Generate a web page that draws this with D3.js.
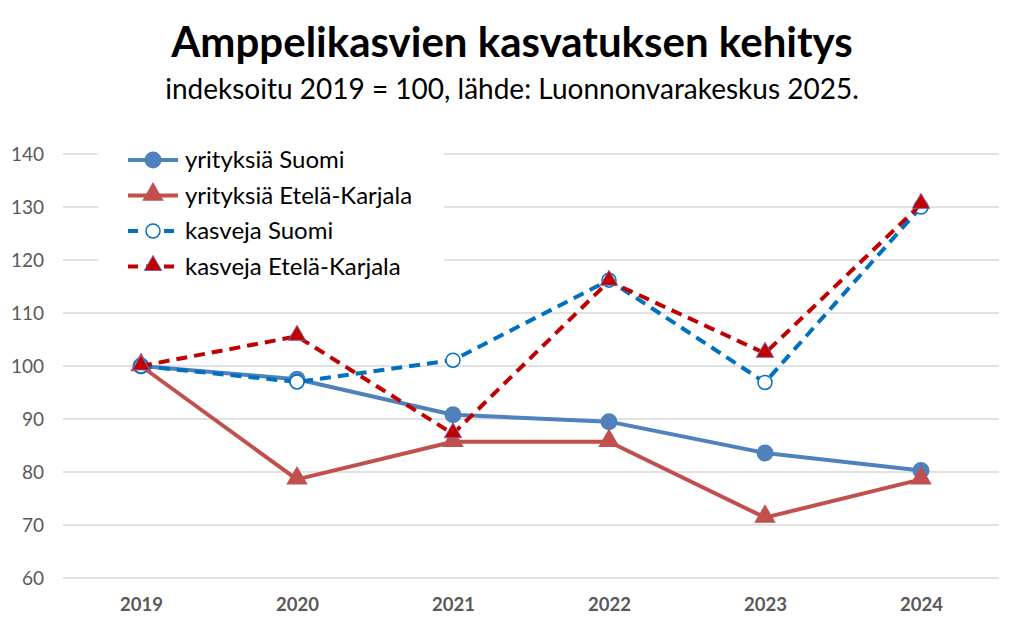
<!DOCTYPE html>
<html>
<head>
<meta charset="utf-8">
<script src="https://cdn.jsdelivr.net/npm/d3@7"></script>
<style>
  body { margin: 0; background: #fff; }
  text { font-family: Lato, "Open Sans", sans-serif; }
</style>
</head>
<body>
<div id="chart"></div>
<script>
// data
var years = ["2019", "2020", "2021", "2022", "2023", "2024"];
var yTicks = [60, 70, 80, 90, 100, 110, 120, 130, 140];
var yritykset_suomi = [100, 97.5, 90.8, 89.5, 83.6, 80.3];
var yritykset_ek = [100, 78.6, 85.7, 85.7, 71.4, 78.6];
var kasvit_suomi = [100, 97.0, 101.1, 116.2, 96.9, 130.0];
var kasvit_ek = [100, 105.6, 87.2, 116.0, 102.4, 130.5];
var seriesNames = ["yrityksiä Suomi", "yrityksiä Etelä-Karjala", "kasveja Suomi", "kasveja Etelä-Karjala"];

var width = 1024, height = 625;
var margin = { top: 154, right: 25, bottom: 47, left: 63 };
var w = width - margin.left - margin.right,
    h = height - margin.top - margin.bottom;

var series = [
  { name: seriesNames[0], values: yritykset_suomi, color: "#4F81BD", dash: null, marker: "circle" },
  { name: seriesNames[1], values: yritykset_ek, color: "#C0504D", dash: null, marker: "bigTriangle" },
  { name: seriesNames[2], values: kasvit_suomi, color: "#0070C0", dash: "11,7", marker: "openCircle" },
  { name: seriesNames[3], values: kasvit_ek, color: "#C00000", dash: "11,7", marker: "smallTriangle" }
];

var svg = d3.select("#chart").append("svg")
    .attr("width", width)
    .attr("height", height);

// titles
svg.append("text")
    .attr("x", 512).attr("y", 57)
    .attr("text-anchor", "middle")
    .style("font-size", "42px").style("font-weight", "bold")
    .text("Amppelikasvien kasvatuksen kehitys");

svg.append("text")
    .attr("x", 512).attr("y", 99)
    .attr("text-anchor", "middle")
    .style("font-size", "28px")
    .text("indeksoitu 2019 = 100, lähde: Luonnonvarakeskus 2025.");

var g = svg.append("g")
    .attr("transform", "translate(" + margin.left + "," + margin.top + ")");

var x = d3.scalePoint().domain(years).range([0, w]).padding(0.5);
var y = d3.scaleLinear().domain([60, 140]).range([h, 0]);

// gridlines
g.selectAll(".grid")
    .data(yTicks)
  .enter().append("line")
    .attr("class", "grid")
    .attr("x1", 0).attr("x2", w)
    .attr("y1", function(d) { return y(d); })
    .attr("y2", function(d) { return y(d); })
    .style("stroke", "#D9D9D9")
    .style("stroke-width", 1.5);

var yAxis = d3.axisLeft(y).tickValues(yTicks).tickSize(0).tickPadding(19);
g.append("g")
    .attr("class", "y axis")
    .call(yAxis)
    .call(function(a) { a.select(".domain").remove(); })
  .selectAll("text")
    .style("font-size", "19px")
    .style("fill", "#595959");

var xAxis = d3.axisBottom(x).tickSize(0).tickPadding(20);
g.append("g")
    .attr("class", "x axis")
    .attr("transform", "translate(0," + h + ")")
    .call(xAxis)
    .call(function(a) { a.select(".domain").remove(); })
  .selectAll("text")
    .style("font-size", "18.5px")
    .style("font-weight", "bold")
    .style("fill", "#595959");

var line = d3.line()
    .x(function(d, i) { return x(years[i]); })
    .y(function(d) { return y(d); });

var tri = d3.symbol().type(d3.symbolTriangle);

function drawMarker(sel, s) {
  if (s.marker === "circle") {
    sel.append("circle").attr("r", 8.5).style("fill", s.color);
  } else if (s.marker === "openCircle") {
    sel.append("circle").attr("r", 7).style("fill", "#fff")
      .style("stroke", s.color).style("stroke-width", 1.5);
  } else if (s.marker === "bigTriangle") {
    sel.append("path").attr("d", tri.size(200)()).attr("transform", "translate(0,-1)")
      .style("fill", s.color);
  } else {
    sel.append("path").attr("d", tri.size(130)()).attr("transform", "translate(0,-1)")
      .style("fill", s.color).style("stroke", "#8064A2").style("stroke-width", 1);
  }
}

series.forEach(function(s) {
  g.append("path")
      .datum(s.values)
      .attr("d", line)
      .style("fill", "none")
      .style("stroke", s.color)
      .style("stroke-width", 4)
      .style("stroke-dasharray", s.dash)
      .style("stroke-linejoin", "round");

  g.selectAll(null)
      .data(s.values)
    .enter().append("g")
      .attr("transform", function(d, i) { return "translate(" + x(years[i]) + "," + y(d) + ")"; })
      .each(function() { drawMarker(d3.select(this), s); });
});

// legend
var legend = svg.append("g").attr("transform", "translate(98,142)");
legend.append("rect")
    .attr("width", 346).attr("height", 142)
    .style("fill", "#fff");

var item = legend.selectAll(".item")
    .data(series)
  .enter().append("g")
    .attr("class", "item")
    .attr("transform", function(d, i) { return "translate(0," + (18 + i * 35.5) + ")"; });

item.append("line")
    .attr("x1", 30).attr("x2", 80)
    .style("stroke", function(d) { return d.color; })
    .style("stroke-width", 4)
    .style("stroke-dasharray", function(d) { return d.dash ? "10,8" : null; });

item.append("g")
    .attr("transform", "translate(55,0)")
    .each(function(d) { drawMarker(d3.select(this), d); });

item.append("text")
    .attr("x", 87).attr("dy", "0.35em")
    .style("font-size", "24px")
    .style("fill", "#000")
    .text(function(d) { return d.name; });
</script>
</body>
</html>
